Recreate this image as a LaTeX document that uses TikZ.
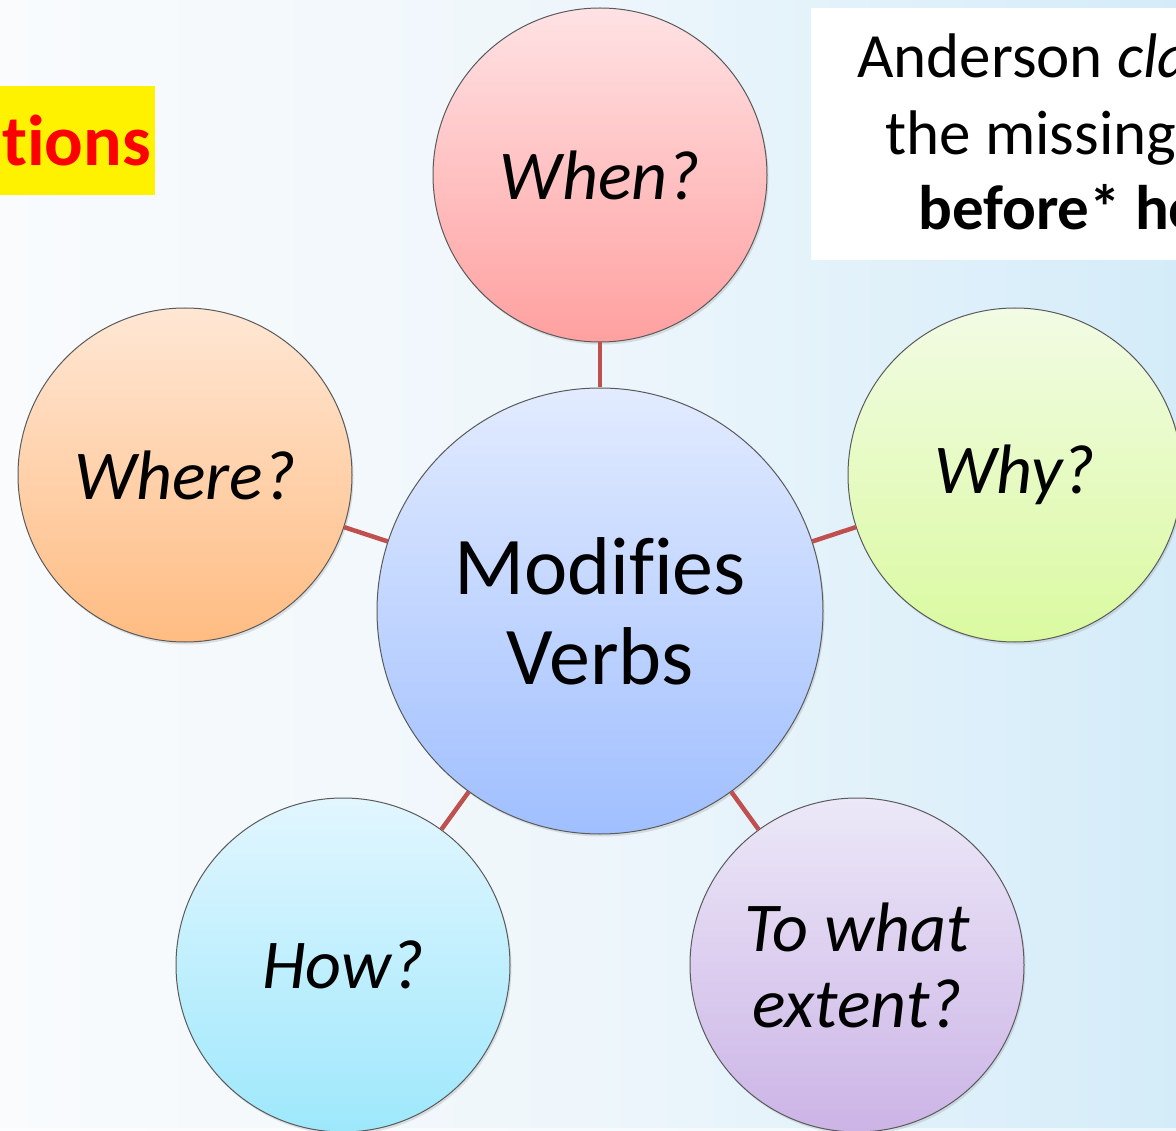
\documentclass[tikz,border=0pt]{standalone}
\usepackage{fontspec}
\setmainfont[Ligatures=NoCommon]{Carlito}
\usetikzlibrary{shadows}

\definecolor{bgleft}{RGB}{249,251,253}
\definecolor{bgmid}{RGB}{238,246,251}
\definecolor{bgright}{RGB}{212,236,249}
\definecolor{linkred}{RGB}{192,80,77}
\definecolor{rimgray}{RGB}{90,90,90}

\tikzset{
  bubble/.style={circle, draw=rimgray, line width=1pt, inner sep=0pt,
    minimum size=334pt, align=center,
    drop shadow={opacity=0.22, shadow xshift=1.5pt, shadow yshift=-2.5pt}},
  question/.style={font=\fontsize{70}{76}\selectfont\itshape},
  link/.style={draw=linkred, line width=4.5pt},
}

\begin{document}
\begin{tikzpicture}[x=1pt, y=-1pt]
  \useasboundingbox (0,0) rectangle (1176,1131);
  \clip (0,0) rectangle (1176,1131);

  % backdrop
  \shade[left color=bgleft, right color=bgright, middle color=bgmid] (0,0) rectangle (1176,1131);
  \fill[white, opacity=0.6] (0,1128) rectangle (1176,1131);

  % title fragment on yellow
  \fill[yellow] (0,86) rectangle (155,195);
  \node[anchor=base east, inner sep=0pt, text=red,
        font=\fontsize{72}{80}\selectfont\bfseries] (title) at (151,166) {tions};

  % note box at the top right
  \fill[white] (811,8) rectangle (1180,260);
  \node[anchor=base west, inner sep=0pt, font=\fontsize{63}{70}\selectfont] (noteA) at (857,78) {Anderson \textit{cla}};
  \node[anchor=base west, inner sep=0pt, font=\fontsize{63}{70}\selectfont] (noteB) at (885,155) {the missing};
  \node[anchor=base west, inner sep=0pt, font=\fontsize{63}{70}\selectfont\bfseries] (noteC) at (918,230) {before* ho};

  % hub
  \node[bubble, minimum size=446pt, top color={rgb,255:red,226;green,235;blue,255},
        bottom color={rgb,255:red,160;green,191;blue,255},
        font=\fontsize{82}{90}\selectfont] (hub) at (600,611) {Modifies\\Verbs};

  % satellites
  \node[bubble, question, top color={rgb,255:red,255;green,226;blue,228},
        bottom color={rgb,255:red,255;green,160;blue,160}] (when) at (600,175) {When?};
  \node[bubble, question, top color={rgb,255:red,255;green,231;blue,212},
        bottom color={rgb,255:red,255;green,188;blue,130}] (where) at (185,475) {Where?};
  \node[bubble, question, top color={rgb,255:red,242;green,251;blue,228},
        bottom color={rgb,255:red,218;green,250;blue,160}] (why) at (1015,475) {Why?};
  \node[bubble, question, top color={rgb,255:red,226;green,246;blue,255},
        bottom color={rgb,255:red,158;green,232;blue,252}] (how) at (343,965) {How?};
  \node[bubble, question, top color={rgb,255:red,236;green,232;blue,248},
        bottom color={rgb,255:red,204;green,180;blue,230}] (extent) at (857,965) {To what\\extent?};

  % spokes
  \foreach \s in {when, where, why, how, extent}
    \draw[link] (hub) -- (\s);
\end{tikzpicture}
\end{document}
